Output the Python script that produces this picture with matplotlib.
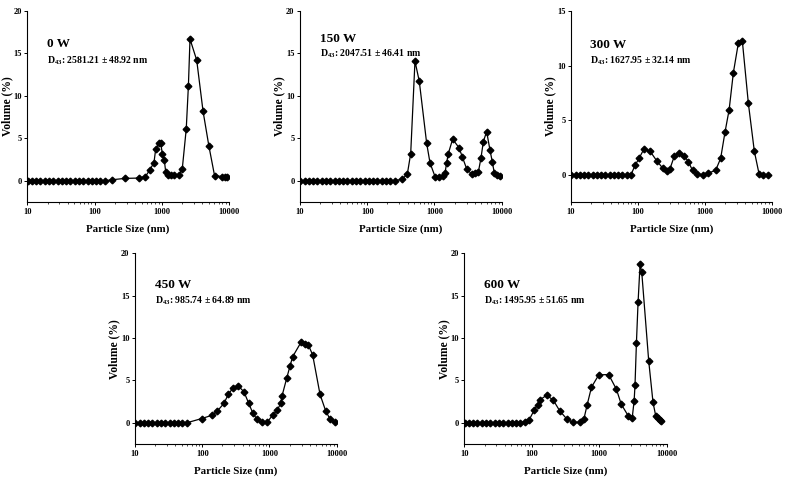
import numpy as np
import matplotlib.pyplot as plt
from matplotlib.ticker import LogLocator, NullFormatter

plt.rcParams['font.family'] = ['Liberation Serif', 'DejaVu Serif']
plt.rcParams['font.weight'] = 'bold'
plt.rcParams['mathtext.fontset'] = 'custom'
plt.rcParams['mathtext.rm'] = 'Liberation Serif:bold'
plt.rcParams['mathtext.it'] = 'Liberation Serif:bold'
plt.rcParams['mathtext.bf'] = 'Liberation Serif:bold'

# Zetasizer size classes (nm) for the flat low-size region
low_bins = [10.1, 11.7, 13.54, 15.69, 18.17, 21.04, 24.36, 28.21, 32.67, 37.84,
            43.82, 50.75, 58.77, 68.06, 78.82, 91.28, 105.7, 122.4, 141.8,
            164.2, 190.1, 220.2, 255.0]

# 0 W
size_0w = low_bins[:19] + [182, 282, 454, 571, 661, 766, 811, 899, 963, 1021, 1093,
                           1144, 1225, 1356, 1515, 1798, 2018, 2312, 2490, 2630,
                           3310, 4110, 5020, 6100, 7920, 8790, 9400]
vol_0w = [0] * 19 + [0.12, 0.28, 0.32, 0.5, 1.25, 2.15, 3.7, 4.4, 4.4, 3.2, 2.4,
                     1.05, 0.7, 0.7, 0.7, 0.7, 1.4, 6.1, 11.2, 16.7,
                     14.2, 8.2, 4.1, 0.6, 0.5, 0.45, 0.4]

# 150 W
size_150w = low_bins[:23] + [333, 395, 443, 513, 595, 766, 859, 1019, 1167, 1324,
                             1435, 1515, 1606, 1863, 2316, 2600, 3015, 3575, 4008,
                             4490, 4920, 5330, 5970, 6700, 7260, 7770, 8610, 9440]
vol_150w = [0] * 23 + [0.2, 0.8, 3.2, 14.1, 11.7, 4.4, 2.1, 0.5, 0.4, 0.6,
                       0.9, 2.1, 3.2, 4.9, 3.9, 2.8, 1.4, 0.8, 0.9,
                       1.0, 2.7, 4.6, 5.8, 3.6, 2.2, 0.9, 0.7, 0.6]

# 300 W
size_300w = low_bins[:15] + [90.6, 104, 123, 152, 191, 235, 275, 302, 350, 411, 489,
                             567, 655, 770, 929, 1127, 1452, 1726, 2004, 2310, 2673,
                             3171, 3640, 4477, 5500, 6460, 7500, 8910]
vol_300w = [0] * 15 + [0.85, 1.5, 2.35, 2.15, 1.28, 0.6, 0.35, 0.55, 1.7, 2.0, 1.75,
                       1.2, 0.4, 0.05, 0.0, 0.15, 0.4, 1.5, 3.9, 5.95, 9.35,
                       12.05, 12.25, 6.55, 2.15, 0.1, 0.0, 0.0]

# 450 W
size_450w = low_bins[:13] + [98, 141, 168, 211, 245, 284, 344, 418, 491, 562, 645, 766,
                             929, 1116, 1310, 1468, 1535, 1803, 2020, 2213, 2943,
                             3375, 3785, 4392, 5650, 6860, 7945, 9440]
vol_450w = [0] * 13 + [0.5, 0.9, 1.4, 2.3, 3.4, 4.05, 4.35, 3.65, 2.3, 1.2, 0.45, 0.05,
                       0.1, 0.9, 1.5, 2.3, 3.15, 5.25, 6.7, 7.8, 9.5,
                       9.35, 9.2, 8.0, 3.35, 1.4, 0.45, 0.05]

# 600 W
size_600w = low_bins[:14] + [78.82, 91, 109, 122, 135, 166, 208, 261, 332, 408, 518,
                             593, 664, 770, 988, 1385, 1808, 2130, 2690, 3100, 3310,
                             3410, 3580, 3784, 4055, 4295, 5445, 6310, 6918, 7482,
                             7943, 8414]
vol_600w = [0] * 14 + [0.1, 0.3, 1.5, 2.15, 2.75, 3.25, 2.7, 1.4, 0.45, 0.05, 0.05,
                       0.4, 2.1, 4.2, 5.65, 5.7, 3.95, 2.2, 0.85, 0.6, 2.6,
                       4.45, 9.45, 14.2, 18.7, 17.75, 7.3, 2.4, 0.83, 0.52,
                       0.35, 0.2]

labels = ['0 W', '150 W', '300 W', '450 W', '600 W']
d43 = ['2581.21 ± 48.92', '2047.51 ± 46.41', '1627.95 ± 32.14',
       '985.74 ± 64.89', '1495.95 ± 51.65']
ymax = [20, 20, 15, 20, 20]
yticks = [[0, 5, 10, 15, 20], [0, 5, 10, 15, 20], [0, 5, 10, 15],
          [0, 5, 10, 15, 20], [0, 5, 10, 15, 20]]

W, H = 787, 482
# axes boxes in pixels: left, right, top, bottom
boxes = [(27.3, 229, 11, 202), (300, 501.7, 11, 202), (571, 771.7, 11, 202),
         (135, 336.7, 253.3, 444), (464.3, 666.5, 253.3, 444)]
title_y = [0.813, 0.839, 0.808, 0.817, 0.817]
d43_y = [0.726, 0.764, 0.726, 0.735, 0.735]

sizes = [size_0w, size_150w, size_300w, size_450w, size_600w]
vols = [vol_0w, vol_150w, vol_300w, vol_450w, vol_600w]

fig = plt.figure(figsize=(W / 100, H / 100), dpi=100)
fig.patch.set_facecolor('white')

for i in range(5):
    l, r, t, b = boxes[i]
    ax = fig.add_axes([l / W, 1 - b / H, (r - l) / W, (b - t) / H])
    ax.plot(sizes[i], vols[i], color='black', linewidth=0.9, marker='D',
            markersize=3.4, markerfacecolor='black', markeredgecolor='black')
    ax.set_xscale('log')
    ax.set_xlim(10, 10000)
    ax.set_ylim(-2.5, ymax[i])
    ax.set_xticks([10, 100, 1000, 10000])
    ax.set_xticklabels(['10', '100', '1000', '10000'])
    ax.xaxis.set_minor_locator(LogLocator(base=10, subs=np.arange(2, 10)))
    ax.xaxis.set_minor_formatter(NullFormatter())
    ax.set_yticks(yticks[i])
    ax.set_yticklabels([str(v) for v in yticks[i]])
    for s in ['top', 'right']:
        ax.spines[s].set_visible(False)
    for s in ['left', 'bottom']:
        ax.spines[s].set_linewidth(0.8)
    ax.tick_params(axis='both', which='major', direction='out', length=2.5,
                   width=0.7, labelsize=6, pad=1.5)
    ax.tick_params(axis='x', which='minor', direction='out', length=1.5, width=0.5)
    ax.set_xlabel('Particle Size (nm)', fontsize=7.8, fontweight='bold')
    ax.set_ylabel('Volume (%)', fontsize=8.4, fontweight='bold')
    ax.xaxis.set_label_coords(0.5, -0.115)
    ax.yaxis.set_label_coords(-0.071, 0.5)
    ax.text(0.097, title_y[i], labels[i], transform=ax.transAxes, fontsize=9.5,
            fontweight='bold', va='baseline', ha='left')
    ax.text(0.097, d43_y[i], r'D$_{\mathrm{43}}$: ' + d43[i] + ' nm',
            transform=ax.transAxes, fontsize=7, fontweight='bold',
            va='baseline', ha='left')

fig.savefig('out.png', dpi=100, facecolor='white')
